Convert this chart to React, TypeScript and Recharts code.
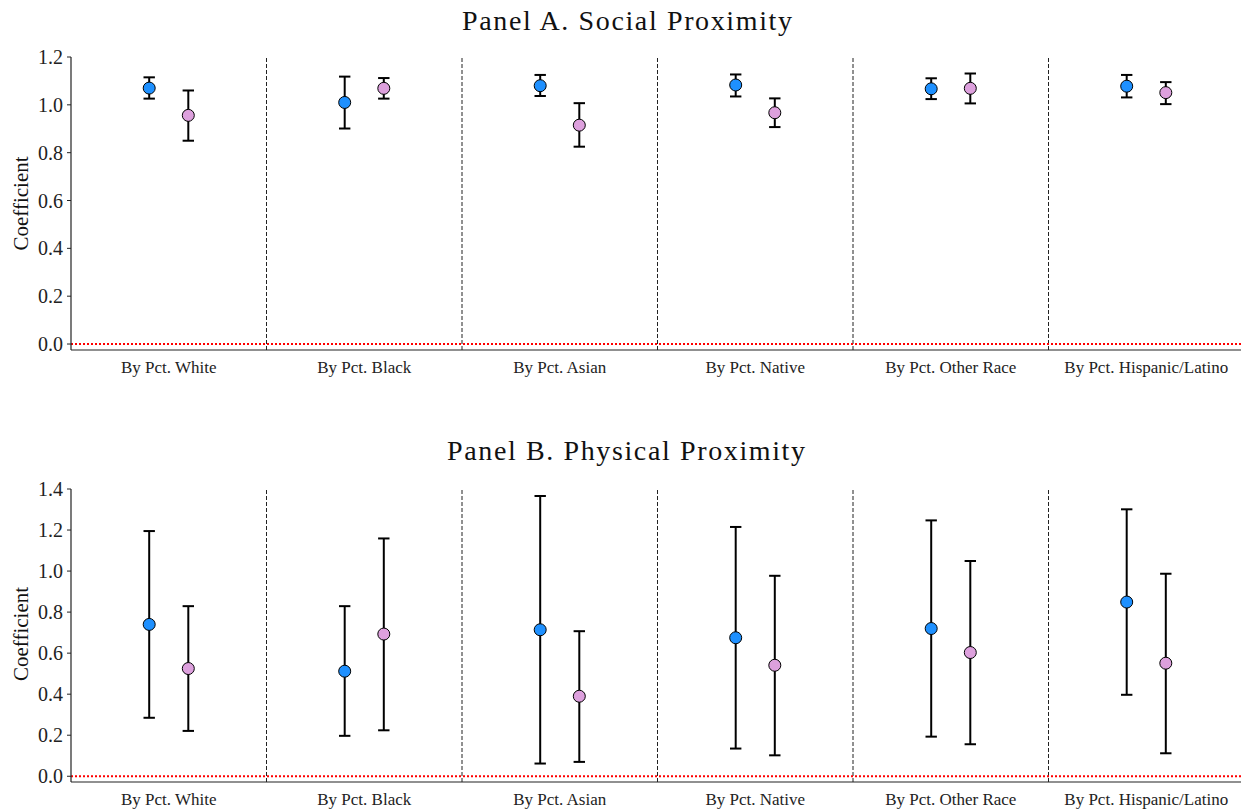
import React from 'react';
import { ScatterChart, Scatter, ErrorBar, XAxis, YAxis, ReferenceLine } from 'recharts';

const categories = [
  'By Pct. White',
  'By Pct. Black',
  'By Pct. Asian',
  'By Pct. Native',
  'By Pct. Other Race',
  'By Pct. Hispanic/Latino',
];

// Panel A. Social Proximity
const socialBlue = [1.070, 1.010, 1.080, 1.083, 1.067, 1.078];
const socialBlueLow = [1.026, 0.901, 1.037, 1.035, 1.024, 1.031];
const socialBlueHigh = [1.115, 1.118, 1.125, 1.127, 1.111, 1.125];
const socialPink = [0.956, 1.069, 0.915, 0.967, 1.069, 1.051];
const socialPinkLow = [0.850, 1.026, 0.825, 0.907, 1.006, 1.003];
const socialPinkHigh = [1.060, 1.112, 1.007, 1.027, 1.131, 1.095];

// Panel B. Physical Proximity
const physBlue = [0.740, 0.512, 0.714, 0.675, 0.720, 0.849];
const physBlueLow = [0.285, 0.197, 0.062, 0.135, 0.193, 0.397];
const physBlueHigh = [1.195, 0.829, 1.366, 1.215, 1.247, 1.301];
const physPink = [0.525, 0.693, 0.390, 0.541, 0.603, 0.551];
const physPinkLow = [0.221, 0.224, 0.070, 0.102, 0.156, 0.112];
const physPinkHigh = [0.829, 1.159, 0.707, 0.977, 1.049, 0.987];

const ticksA = [0, 0.2, 0.4, 0.6, 0.8, 1.0, 1.2];
const ticksB = [0, 0.2, 0.4, 0.6, 0.8, 1.0, 1.2, 1.4];
const categoryTicks = [0, 1, 2, 3, 4, 5];
const separators = [0.5, 1.5, 2.5, 3.5, 4.5];

const DODGE = 0.1;
const BLUE = '#1E90FF';
const PINK = '#DDA0DD';
const FONT = '"Liberation Serif", "Times New Roman", serif';

function build(vals: number[], lows: number[], highs: number[], offset: number) {
  return vals.map((v, i) => ({
    x: i + offset,
    y: v,
    err: [v - lows[i], highs[i] - v],
  }));
}

const dot = (color: string) => (props: any) => (
  <circle cx={props.cx} cy={props.cy} r={6} fill={color} stroke="#000" strokeWidth={1} />
);

function Panel(props: {
  top: number;
  blue: any[];
  pink: any[];
  domain: [number, number];
  ticks: number[];
}) {
  const { top, blue, pink, domain, ticks } = props;
  return (
    <div style={{ position: 'absolute', left: 0, top, width: 1250, height: 390 }}>
      <ScatterChart
        width={1250}
        height={390}
        margin={{ top: 57, right: 6, bottom: 10, left: 11 }}
      >
        <XAxis
          type="number"
          dataKey="x"
          domain={[-0.5, 5.5]}
          ticks={categoryTicks}
          interval={0}
          tickFormatter={(v: number) => categories[v] ?? ''}
          tickLine={false}
          tickSize={0}
          tickMargin={11}
          height={30}
          axisLine={{ stroke: '#222', strokeWidth: 1.2 }}
          tick={{ fill: '#222', fontSize: 17, fontFamily: FONT }}
          allowDataOverflow
        />
        <YAxis
          type="number"
          dataKey="y"
          domain={domain}
          ticks={ticks}
          interval={0}
          tickFormatter={(v: number) => v.toFixed(1)}
          width={60}
          tickSize={4}
          tickMargin={4}
          tickLine={{ stroke: '#222' }}
          axisLine={{ stroke: '#222', strokeWidth: 1.2 }}
          tick={{ fill: '#222', fontSize: 20, fontFamily: FONT }}
          allowDataOverflow
        />
        {separators.map((s) => (
          <ReferenceLine
            key={s}
            x={s}
            stroke="#222"
            strokeWidth={1}
            strokeDasharray="4 2"
            ifOverflow="visible"
          />
        ))}
        <ReferenceLine y={0} stroke="#ff0000" strokeWidth={2} strokeDasharray="2 2" />
        <Scatter data={blue} dataKey="y" isAnimationActive={false} shape={dot(BLUE)}>
          <ErrorBar dataKey="err" direction="y" width={5.7} strokeWidth={2} stroke="#000" />
        </Scatter>
        <Scatter data={pink} dataKey="y" isAnimationActive={false} shape={dot(PINK)}>
          <ErrorBar dataKey="err" direction="y" width={5.7} strokeWidth={2} stroke="#000" />
        </Scatter>
      </ScatterChart>
    </div>
  );
}

export default function App() {
  const aBlue = build(socialBlue, socialBlueLow, socialBlueHigh, -DODGE);
  const aPink = build(socialPink, socialPinkLow, socialPinkHigh, DODGE);
  const bBlue = build(physBlue, physBlueLow, physBlueHigh, -DODGE);
  const bPink = build(physPink, physPinkLow, physPinkHigh, DODGE);
  return (
    <div
      style={{
        position: 'absolute',
        left: 0,
        top: 0,
        width: 1241,
        height: 809,
        overflow: 'hidden',
        background: '#fff',
      }}
    >
      <Panel top={0} blue={aBlue} pink={aPink} domain={[-0.025, 1.2]} ticks={ticksA} />
      <Panel top={432} blue={bBlue} pink={bPink} domain={[-0.028, 1.4]} ticks={ticksB} />
      <svg
        width={1241}
        height={809}
        style={{ position: 'absolute', left: 0, top: 0, pointerEvents: 'none' }}
      >
        <text
          x={627}
          y={30}
          textAnchor="middle"
          fontFamily={FONT}
          fontSize={28}
          fill="#111"
          textLength={330}
          lengthAdjust="spacing"
        >
          Panel A. Social Proximity
        </text>
        <text
          x={626}
          y={460}
          textAnchor="middle"
          fontFamily={FONT}
          fontSize={28}
          fill="#111"
          textLength={358}
          lengthAdjust="spacing"
        >
          Panel B. Physical Proximity
        </text>
        <text
          x={28}
          y={203.5}
          transform="rotate(-90 28 203.5)"
          textAnchor="middle"
          fontFamily={FONT}
          fontSize={21}
          fill="#111"
        >
          Coefficient
        </text>
        <text
          x={28}
          y={634}
          transform="rotate(-90 28 634)"
          textAnchor="middle"
          fontFamily={FONT}
          fontSize={21}
          fill="#111"
        >
          Coefficient
        </text>
      </svg>
    </div>
  );
}
